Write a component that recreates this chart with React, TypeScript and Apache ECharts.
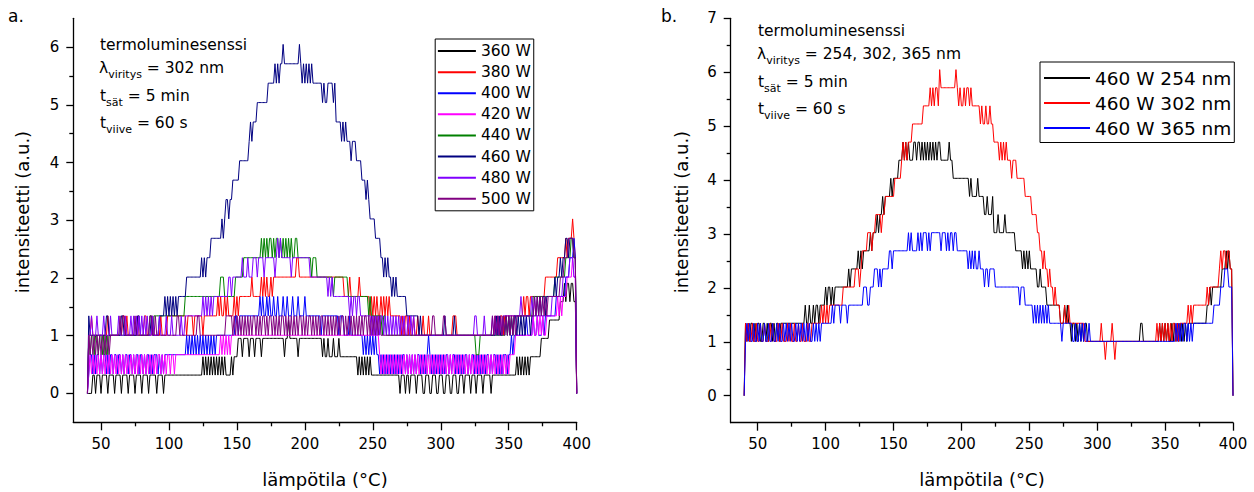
import React, { useEffect, useRef } from "react";
import * as echarts from "echarts";

const FONT = "DejaVu Sans";

// temperature of the first reading (°C); readings every 1 °C, chunks of 10 readings
const T_START = 40;

// intensity (a.u.) of each detector count level
const LEVELS = [0, 0.336, 0.672, 1.008, 1.344, 1.68, 2.016, 2.352, 2.688, 3.024, 3.36, 3.696, 4.032, 4.368, 4.704, 5.04, 5.376, 5.712, 6.048];
const LEVELS_360 = [0, 0.318, 0.636, 0.954, 1.272, 1.59, 1.908];

const X_TICKS = [50, 100, 150, 200, 250, 300, 350, 400];
const X_MINOR = [75, 125, 175, 225, 275, 325, 375];
const YA_TICKS = [0, 1, 2, 3, 4, 5, 6];
const YA_MINOR = [0.5, 1.5, 2.5, 3.5, 4.5, 5.5];
const YB_TICKS = [0, 1, 2, 3, 4, 5, 6, 7];
const YB_MINOR = [0.5, 1.5, 2.5, 3.5, 4.5, 5.5, 6.5];

const A_NAMES = ["360 W", "380 W", "400 W", "420 W", "440 W", "460 W", "480 W", "500 W"];
const A_COLORS = ["#000000", "#FF0000", "#0000FF", "#FF00FF", "#008000", "#000080", "#8000FF", "#800080"];
const B_NAMES = ["460 W 254 nm", "460 W 302 nm", "460 W 365 nm"];
const B_COLORS = ["#000000", "#FF0000", "#0000FF"];

// level codes (base 36) per reading, 10 readings per chunk, from 40 °C to 400 °C
const A360 = ["0000110111", "0111101111", "0111101111", "0111101111", "0111101111", "1011110111", "1111111111", "1111111111", "1111121212", "1212121212", "1211112122", "2333233332", "3332333323", "3333333333", "3333323343", "3333323333", "3333333333", "3332322322", "2322232222", "2222222221", "2121212121", "1111111111", "1111111111", "0111011011", "1101111001", "1100111001", "1100111001", "1100111011", "1101110111", "1011111011", "1111111111", "1111112121", "2121212222", "2222333333", "4444444455", "5656656655", "0"];
const A380 = ["0334333333", "3333343333", "3333334434", "3333333433", "3344333343", "3333433334", "4444444444", "4443444434", "4444434444", "4444445454", "4545444454", "5455555555", "5655555565", "6565565666", "6666666666", "6666776666", "6666666666", "6666666666", "6666666665", "5556555555", "6555555545", "4545445454", "5454444444", "4343443433", "4334333433", "3433333333", "3333333334", "4433333333", "3333333333", "3333333333", "4343443444", "4444444444", "4545545555", "5555555666", "6666667777", "7787888987", "0"];
const A400 = ["0122121221", "2122121221", "2212212122", "1221212212", "2121221212", "2212121222", "2222222222", "2223232323", "2323232323", "2323233333", "3333333334", "4344444444", "4444444545", "4454544544", "5444544544", "4544454444", "5444444444", "4434444444", "4444434443", "3334333333", "3332323232", "3232212121", "2121212121", "2122121212", "1212212121", "2321212121", "2121221212", "2121212122", "1212212121", "2121221212", "2121212221", "2232333333", "3334333343", "3433343444", "4444455555", "5566677787", "0"];
const A420 = ["0121212121", "2121212121", "2121212121", "2121212121", "2121212121", "2122121212", "2122122222", "2222222222", "2222222222", "2222222232", "3232323333", "3333333333", "3333333333", "3333333333", "3333333333", "3333333333", "3333333333", "3333333333", "3333333333", "3333333333", "3333333333", "3333321212", "1212121212", "1212121212", "1212121212", "1212121212", "1212121212", "1212121212", "1212121212", "1212121212", "1212121212", "1222233333", "3333333343", "3434343344", "4444445454", "5556666766", "0"];
const A440 = ["0323323323", "3232323333", "3333333333", "3333333333", "3333334434", "4444444444", "4444444444", "4455555555", "5555555555", "5555555566", "6555555556", "6666677777", "7777777787", "8787887878", "8787878787", "8778877777", "7777767776", "6666666666", "6566666666", "6655555555", "5555555454", "4444444344", "3333333333", "3333333333", "3333333333", "3333333333", "3333333333", "3333333333", "3333332223", "3333333333", "3333333343", "4343444444", "4444444455", "5555555555", "5555666666", "6677778877", "0"];
const A460 = ["0433333333", "3333443333", "3333344333", "3333333443", "3333333433", "3334444545", "4545454555", "5556666666", "6666767677", "7888888889", "89aa9aabbb", "bbcccccccd", "edeeefffff", "fffggggghg", "hghhihhhhh", "hhhhhhihgh", "ghghghgggg", "gggfgffggg", "gfgeeeeded", "edddcdddcc", "ccbbbaba99", "9988887767", "6766565655", "5555544444", "4444343333", "3333333333", "3334333333", "4333333333", "3333333333", "3333333333", "3434334343", "4343443434", "3434443444", "4545455455", "5555656676", "7788788877", "0"];
const A480 = ["0334333433", "3343333433", "3334333343", "3343434343", "4343433343", "3334333343", "3343333334", "3344444444", "4444454545", "4545555555", "5555665666", "6666766676", "6677767777", "6777777767", "8787777777", "6777777777", "7777666666", "6666666565", "6555555555", "5554545545", "5444444443", "4343434434", "3434343434", "3434334343", "4333333333", "3333333333", "3333333333", "3333333333", "3333344333", "3343333343", "4343434444", "4444444445", "4444444545", "4444444444", "4455555555", "6666677766", "0"];
const A500 = ["0323232323", "2323232333", "3333434433", "3333343333", "3333334433", "4333333333", "3333334433", "3333333333", "3443333333", "3333333333", "3344444343", "4343434343", "4344343434", "4343443434", "3434434343", "4343434434", "3434434343", "4344343434", "3434343443", "4343434343", "4343443434", "3434343333", "3333333333", "3333333333", "3333333333", "3333443333", "3344333333", "3333333333", "3333333333", "3333333343", "4343434343", "4343434444", "4444444445", "4545454545", "5555555566", "6777888877", "0"];

const B254 = ["0434344343", "4433443434", "4343443444", "4444444444", "4444454454", "4545545555", "6566565666", "6666666767", "7777878788", "88898999a9", "aababbbbcb", "ccccdddede", "dedddeedee", "dedededede", "dedeeddddd", "deddcccccc", "ccccccbcbb", "bbcbbbbaab", "aaab999a99", "99a9999999", "8888878787", "8777776676", "6665555555", "5554445454", "4344343434", "3443333333", "3333333333", "3333333333", "3333333333", "3344333333", "3333334343", "4343343434", "3434343444", "4444444444", "4556566666", "6677787877", "0"];
const B302 = ["0434334334", "3343343334", "3433343343", "3343433433", "4334333433", "4444444545", "4545555555", "5556666666", "6677767888", "8999899aaa", "a9aabbbbbb", "bcccccdede", "deeeffffff", "ffggggghgh", "ghhgihhhhh", "hhhhhhihgh", "gghghhghgg", "ggggfgffgf", "fgffeeeede", "dededddcdd", "dccccccbbb", "bbaaaa9988", "7877676656", "5554445445", "4444444444", "4333333333", "3334332333", "3432333333", "3333333333", "3333333333", "3333434343", "4343434434", "3444444545", "4555555555", "5656666666", "7878878877", "0"];
const B365 = ["0343433433", "4343343343", "3433434334", "3434343343", "4343434343", "3434343444", "4444454555", "5455554555", "5555555566", "6556667776", "7677777887", "8888888888", "8989888898", "9899989899", "9999989998", "9899899888", "8888878787", "8778777677", "6777766666", "6666666666", "6665666555", "5554545454", "5454544444", "4444344444", "4433433434", "3433433333", "3333333333", "3333333333", "3333333333", "3333333333", "3333333333", "3333333343", "4343443434", "3444444444", "4444445555", "5666777666", "0"];

const A_SERIES = [A360, A380, A400, A420, A440, A460, A480, A500];
const B_SERIES = [B254, B302, B365];

function toPoints(chunks: string[], levels: number[]) {
  const pts: number[][] = [];
  chunks.forEach((chunk, k) => {
    for (let j = 0; j < chunk.length; j++) {
      pts.push([T_START + 10 * k + j, levels[parseInt(chunk[j], 36)]]);
    }
  });
  return pts;
}

const AXIS_COLOR = "#000";
const lineStyle = { color: AXIS_COLOR, width: 1.3 };

function xAxes(gridIndex: number, min: number) {
  return [
    {
      type: "value", gridIndex, position: "bottom", min, max: 400,
      axisLine: { show: true, onZero: false, lineStyle },
      splitLine: { show: false },
      axisTick: { show: true, customValues: X_TICKS, length: 8, lineStyle },
      axisLabel: { show: true, customValues: X_TICKS, margin: 14, fontSize: 15, color: "#000", fontFamily: FONT },
    },
    {
      type: "value", gridIndex, position: "bottom", min, max: 400,
      axisLine: { show: false, onZero: false },
      splitLine: { show: false },
      axisTick: { show: true, customValues: X_MINOR, length: 4, lineStyle },
      axisLabel: { show: false },
    },
  ];
}

function yAxes(gridIndex: number, max: number, ticks: number[], minor: number[]) {
  return [
    {
      type: "value", gridIndex, position: "left", min: -0.5, max,
      axisLine: { show: true, onZero: false, lineStyle },
      splitLine: { show: false },
      axisTick: { show: true, customValues: ticks, length: 7, lineStyle },
      axisLabel: { show: true, customValues: ticks, margin: 14, fontSize: 15, color: "#000", fontFamily: FONT },
    },
    {
      type: "value", gridIndex, position: "left", min: -0.5, max,
      axisLine: { show: false, onZero: false },
      splitLine: { show: false },
      axisTick: { show: true, customValues: minor, length: 4, lineStyle },
      axisLabel: { show: false },
    },
  ];
}

const RICH = {
  m: { fontSize: 15.5, lineHeight: 24, fontFamily: FONT, fill: "#000" },
  s: { fontSize: 11, lineHeight: 9, fontFamily: FONT, fill: "#000", verticalAlign: "bottom" },
};

function plainText(x: number, y: number, text: string, fontSize: number, extra: any = {}) {
  return {
    type: "text", x, y, silent: true, ...extra,
    style: { text, fontSize, fontFamily: FONT, fill: "#000", verticalAlign: "middle", align: "left", ...(extra.style || {}) },
  };
}

function richText(x: number, y: number, text: string) {
  return {
    type: "text", x, y, silent: true,
    style: { text, rich: RICH, fontFamily: FONT, fill: "#000", verticalAlign: "middle", align: "left" },
  };
}

function buildOption() {
  const series: any[] = [];
  A_SERIES.forEach((chunks, i) => {
    series.push({
      type: "line", name: A_NAMES[i], xAxisIndex: 0, yAxisIndex: 0,
      data: toPoints(chunks, i === 0 ? LEVELS_360 : LEVELS),
      showSymbol: false, symbol: "none", color: A_COLORS[i],
      lineStyle: { width: 1, color: A_COLORS[i] },
      emphasis: { disabled: true }, silent: true,
    });
  });
  B_SERIES.forEach((chunks, i) => {
    series.push({
      type: "line", name: B_NAMES[i], xAxisIndex: 2, yAxisIndex: 2,
      data: toPoints(chunks, LEVELS),
      showSymbol: false, symbol: "none", color: B_COLORS[i],
      lineStyle: { width: 1, color: B_COLORS[i] },
      emphasis: { disabled: true }, silent: true,
    });
  });

  return {
    animation: false,
    backgroundColor: "#fff",
    textStyle: { fontFamily: FONT },
    grid: [
      { left: 73.3, top: 18.3, width: 503.4, height: 404, containLabel: false, outerBoundsMode: "none" },
      { left: 730.7, top: 18.3, width: 502.3, height: 404.4, containLabel: false, outerBoundsMode: "none" },
    ],
    xAxis: [...xAxes(0, 29.6), ...xAxes(1, 30.1)],
    yAxis: [...yAxes(0, 6.5, YA_TICKS, YA_MINOR), ...yAxes(1, 7, YB_TICKS, YB_MINOR)],
    legend: [
      {
        data: A_NAMES, orient: "vertical", left: 435.2, top: 39,
        icon: "rect", itemWidth: 38, itemHeight: 2, itemGap: 0,
        padding: [1.5, 3, 1.5, 2.7], borderColor: "#000", borderWidth: 1,
        selectedMode: false,
        textStyle: { fontSize: 15.5, lineHeight: 21.1, color: "#000", fontFamily: FONT },
      },
      {
        data: B_NAMES, orient: "vertical", left: 1040, top: 62,
        icon: "rect", itemWidth: 46, itemHeight: 2, itemGap: 0,
        padding: [3.5, 3, 2, 4], borderColor: "#000", borderWidth: 1,
        selectedMode: false,
        textStyle: { fontSize: 18.5, lineHeight: 25, color: "#000", fontFamily: FONT },
      },
    ],
    graphic: [
      plainText(8, 15.5, "a.", 17),
      plainText(661, 15.5, "b.", 17),
      // panel a annotation
      plainText(100, 45, "termoluminesenssi", 15.5),
      richText(99, 68, "{m|λ}{s|viritys}{m| = 302 nm}"),
      richText(100, 96, "{m|t}{s|sät}{m| = 5 min}"),
      richText(100, 123, "{m|t}{s|viive}{m| = 60 s}"),
      // panel b annotation
      plainText(758, 31, "termoluminesenssi", 15.5),
      richText(757, 54, "{m|λ}{s|viritys}{m| = 254, 302, 365 nm}"),
      richText(758, 82, "{m|t}{s|sät}{m| = 5 min}"),
      richText(758, 108.5, "{m|t}{s|viive}{m| = 60 s}"),
      // axis titles
      { type: "text", x: 325, y: 479, silent: true, style: { text: "lämpötila (°C)", fontSize: 18, fontFamily: FONT, fill: "#000", align: "center", verticalAlign: "middle" } },
      { type: "text", x: 982, y: 479, silent: true, style: { text: "lämpötila (°C)", fontSize: 18, fontFamily: FONT, fill: "#000", align: "center", verticalAlign: "middle" } },
      { type: "text", x: 22.4, y: 212, rotation: Math.PI / 2, silent: true, style: { text: "intensiteetti (a.u.)", fontSize: 18, fontFamily: FONT, fill: "#000", align: "center", verticalAlign: "middle" } },
      { type: "text", x: 681, y: 212, rotation: Math.PI / 2, silent: true, style: { text: "intensiteetti (a.u.)", fontSize: 18, fontFamily: FONT, fill: "#000", align: "center", verticalAlign: "middle" } },
    ],
    series,
  };
}

export default function App() {
  const ref = useRef<HTMLDivElement>(null);
  useEffect(() => {
    if (!ref.current) return;
    const chart = echarts.init(ref.current, undefined, { renderer: "svg" });
    chart.setOption(buildOption() as any);
    return () => chart.dispose();
  }, []);
  return (
    <div
      ref={ref}
      style={{ position: "fixed", left: 0, top: 0, width: 1254, height: 492, background: "#fff" }}
    />
  );
}
